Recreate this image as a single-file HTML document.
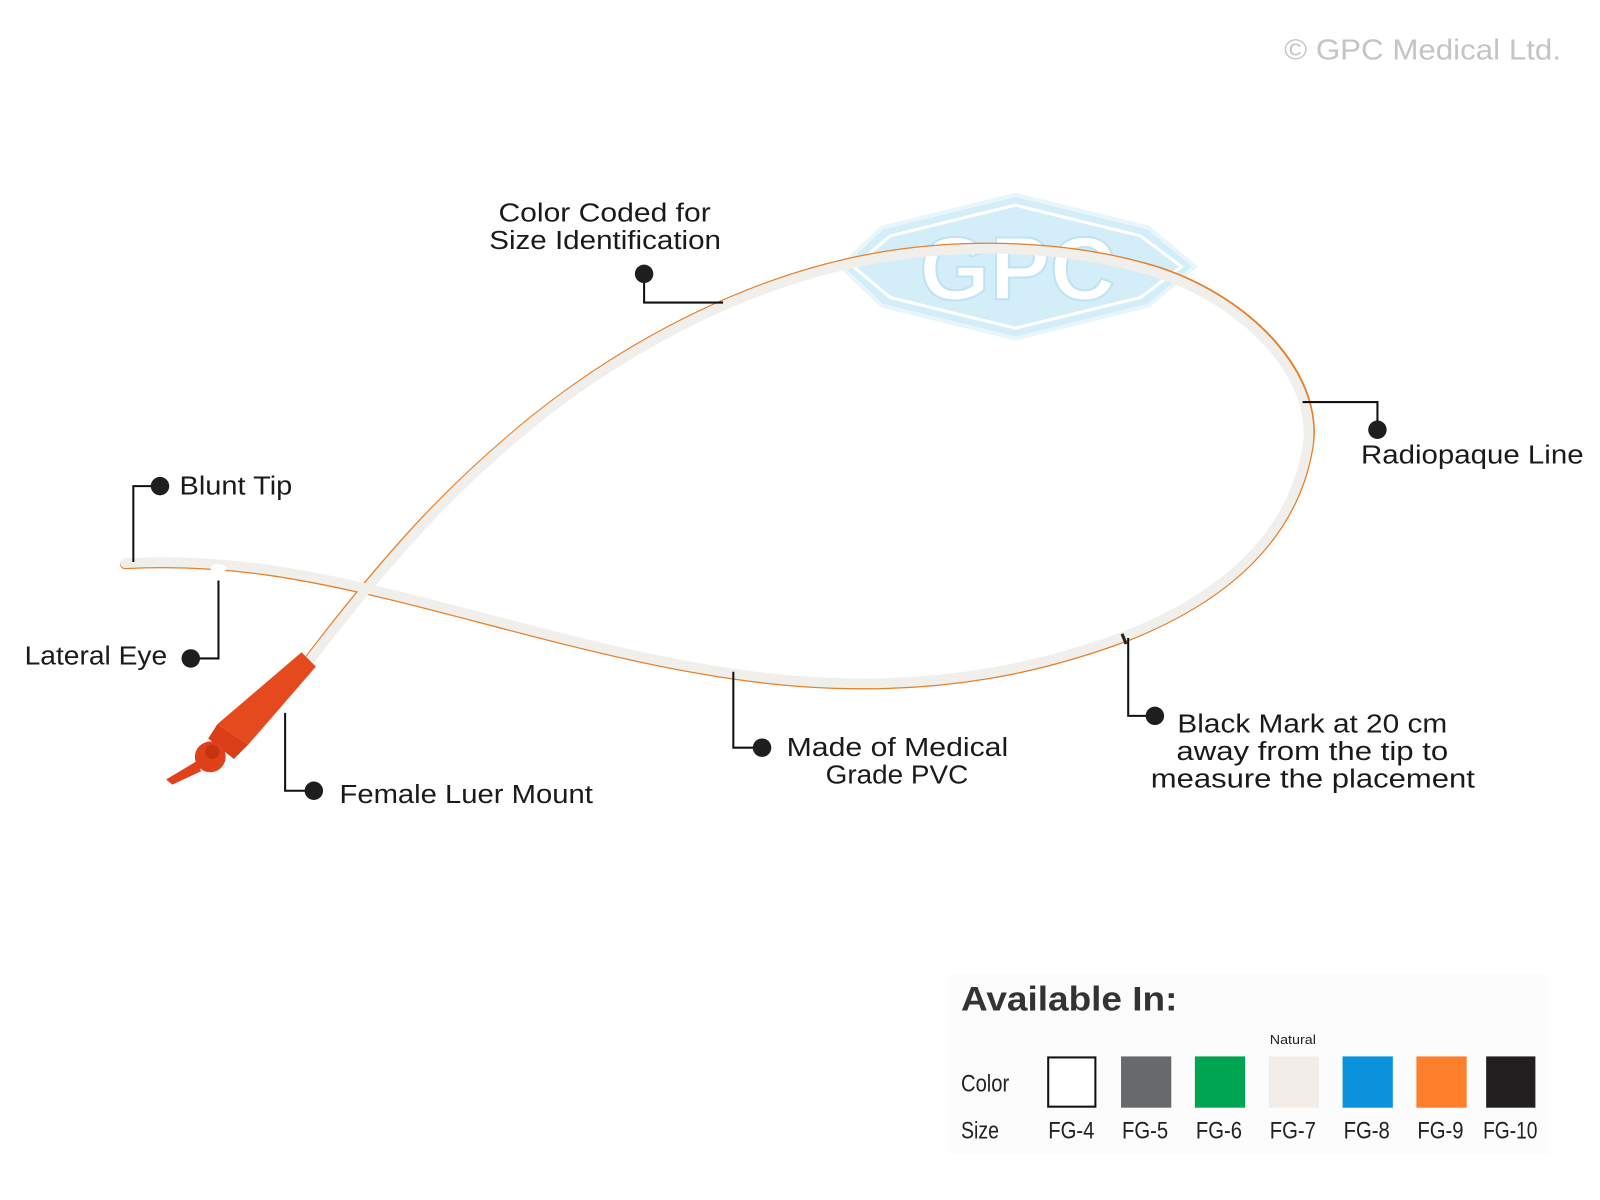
<!DOCTYPE html>
<html><head><meta charset="utf-8"><style>
html,body{margin:0;padding:0;background:#fff;width:1600px;height:1200px;overflow:hidden}
svg{display:block}
.l{font-family:"Liberation Sans",sans-serif;font-size:25px;fill:#1a1a1a}
.n{font-family:"Liberation Sans Narrow","Liberation Sans",sans-serif;font-size:23px;fill:#222}
</style></head><body>
<svg width="1600" height="1200" viewBox="0 0 1560 1170" xmlns="http://www.w3.org/2000/svg">
<rect width="1560" height="1170" fill="#fff"/>
<text x="1252" y="58" textLength="270" lengthAdjust="spacingAndGlyphs" font-family="Liberation Sans,sans-serif" font-size="28" fill="#c4c4c4">© GPC Medical Ltd.</text>
<!-- watermark -->
<polygon points="990,190 1120,222 1165,260 1120,298 990,330 860,298 820,260 860,222" fill="#d3edf9" stroke="#e8f6fc" stroke-width="4"/>
<polygon points="990,200 1112,230 1152,260 1112,290 990,320 868,290 832,260 868,230" fill="none" stroke="#fff" stroke-width="3"/>
<text x="992" y="292" text-anchor="middle" font-family="Liberation Sans,sans-serif" font-weight="bold" font-size="88" fill="#fff" stroke="#bfe3f4" stroke-width="2">GPC</text>
<!-- catheter -->
<path d="M122,550 C220,545 300,560 400,585 C520,615 650,655 780,665 C920,675 1020,650 1100,620 C1200,580 1260,520 1275,440 C1290,370 1220,295 1130,265 C1050,240 950,235 860,250 C740,270 620,330 520,410 C440,475 380,540 300,645" fill="none" stroke="#e8802a" stroke-width="10" stroke-linecap="round"/>
<path d="M122,549 C220,544 300,559 400,584 C520,614 650,654 780,664 C920,674 1020,649 1100,619 C1200,579 1259,519 1274,440 C1288,371 1219,296 1129,266 C1050,241 950,236 860,251 C740,271 620,331 520,411 C440,476 381,541 301,645" fill="none" stroke="#f1efec" stroke-width="9.5" stroke-linecap="round"/>
<ellipse cx="213" cy="554" rx="8" ry="4" fill="#fff"/>
<path d="M1094,618 l4,10" stroke="#222" stroke-width="3"/>
<!-- luer -->
<polygon points="294,636 308,650 242,726 212,706" fill="#e54a1e"/>
<polygon points="212,706 242,726 228,740 203,720" fill="#d83e18"/>
<circle cx="205" cy="738" r="15" fill="#e0401a"/>
<circle cx="207" cy="733" r="7" fill="#c8330f"/>
<polygon points="192,742 196,752 168,765 162,760" fill="#e0401a"/>
<!-- connectors -->
<g stroke="#111" stroke-width="2" fill="none">
<polyline points="628,267 628,295 705,295"/>
<polyline points="156,474 130,474 130,548"/>
<polyline points="186,642 213,642 213,566"/>
<polyline points="306,771 278,771 278,695"/>
<polyline points="743,729 715,729 715,655"/>
<polyline points="1126,698 1100,698 1100,622"/>
<polyline points="1343,419 1343,392 1270,392"/>
</g>
<g fill="#1e1e1e">
<circle cx="628" cy="267" r="9"/><circle cx="156" cy="474" r="9"/><circle cx="186" cy="642" r="9"/>
<circle cx="306" cy="771" r="9"/><circle cx="743" cy="729" r="9"/><circle cx="1126" cy="698" r="9"/><circle cx="1343" cy="419" r="9"/>
</g>
<text class="l" x="486" y="216" textLength="207" lengthAdjust="spacingAndGlyphs">Color Coded for</text>
<text class="l" x="477" y="243" textLength="226" lengthAdjust="spacingAndGlyphs">Size Identification</text>
<text class="l" x="175" y="482" textLength="110" lengthAdjust="spacingAndGlyphs">Blunt Tip</text>
<text class="l" x="24" y="648" textLength="139" lengthAdjust="spacingAndGlyphs">Lateral Eye</text>
<text class="l" x="331" y="783" textLength="247" lengthAdjust="spacingAndGlyphs">Female Luer Mount</text>
<text class="l" x="767" y="737" textLength="216" lengthAdjust="spacingAndGlyphs">Made of Medical</text>
<text class="l" x="805" y="764" textLength="139" lengthAdjust="spacingAndGlyphs">Grade PVC</text>
<text class="l" x="1148" y="714" textLength="263" lengthAdjust="spacingAndGlyphs">Black Mark at 20 cm</text>
<text class="l" x="1147" y="741" textLength="265" lengthAdjust="spacingAndGlyphs">away from the tip to</text>
<text class="l" x="1122" y="768" textLength="316" lengthAdjust="spacingAndGlyphs">measure the placement</text>
<text class="l" x="1327" y="452" textLength="217" lengthAdjust="spacingAndGlyphs">Radiopaque Line</text>
<!-- available -->
<rect x="925" y="950" width="585" height="175" fill="#fcfcfc"/>
<text x="937" y="985" textLength="211" lengthAdjust="spacingAndGlyphs" font-family="Liberation Sans,sans-serif" font-weight="bold" font-size="33" fill="#333">Available In:</text>
<text class="n" x="937" y="1064" textLength="47" lengthAdjust="spacingAndGlyphs">Color</text>
<text class="n" x="937" y="1110" textLength="37" lengthAdjust="spacingAndGlyphs">Size</text>
<text x="1238" y="1018" textLength="45" lengthAdjust="spacingAndGlyphs" font-family="Liberation Sans,sans-serif" font-size="13" fill="#222">Natural</text>
<rect x="1022" y="1031" width="46" height="48" fill="#fff" stroke="#111" stroke-width="2"/>
<rect x="1093" y="1030" width="49" height="50" fill="#68696d"/>
<rect x="1165" y="1030" width="49" height="50" fill="#00a551"/>
<rect x="1237" y="1030" width="49" height="50" fill="#f2ede8"/>
<rect x="1309" y="1030" width="49" height="50" fill="#0a93dc"/>
<rect x="1381" y="1030" width="49" height="50" fill="#fd7f2c"/>
<rect x="1449" y="1030" width="48" height="50" fill="#231f20"/>
<text class="n" x="1022" y="1110" textLength="45" lengthAdjust="spacingAndGlyphs">FG-4</text>
<text class="n" x="1094" y="1110" textLength="45" lengthAdjust="spacingAndGlyphs">FG-5</text>
<text class="n" x="1166" y="1110" textLength="45" lengthAdjust="spacingAndGlyphs">FG-6</text>
<text class="n" x="1238" y="1110" textLength="45" lengthAdjust="spacingAndGlyphs">FG-7</text>
<text class="n" x="1310" y="1110" textLength="45" lengthAdjust="spacingAndGlyphs">FG-8</text>
<text class="n" x="1382" y="1110" textLength="45" lengthAdjust="spacingAndGlyphs">FG-9</text>
<text class="n" x="1446" y="1110" textLength="53" lengthAdjust="spacingAndGlyphs">FG-10</text>
</svg>
</body></html>
